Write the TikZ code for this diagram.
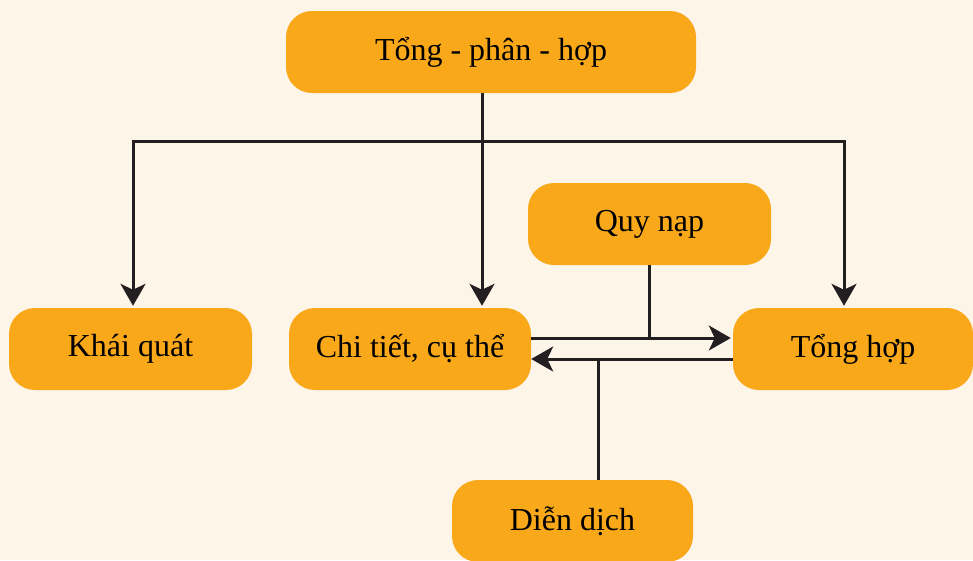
\documentclass[tikz,border=0pt]{standalone}
\usepackage{fontspec}
\setmainfont{Liberation Serif}
\usetikzlibrary{arrows.meta}
\definecolor{bgc}{HTML}{FEF5E9}
\definecolor{boxc}{HTML}{F9A81A}
\definecolor{linec}{HTML}{231F20}
\tikzset{
  box/.style={fill=boxc, draw=none, rounded corners=26pt, minimum width=242pt, minimum height=82pt, inner sep=0pt, font=\fontsize{32}{38}\selectfont, text=black},
  conn/.style={draw=linec, line width=3pt},
  arr/.style={conn, -{Stealth[length=22pt,width=25pt,inset=6pt]}, shorten >=2pt}
}
\begin{document}
\begin{tikzpicture}[x=1pt,y=-1pt]
\fill[bgc] (0,0) rectangle (973,560);
\useasboundingbox (0,0) rectangle (973,560);
\node[box, minimum width=410pt] (top) at (491,52) {Tổng - phân - hợp};
\node[box, minimum width=243pt] (quy) at (649.5,224) {Quy nạp};
\node[box, minimum width=243pt] (khai) at (130.5,349) {Khái quát};
\node[box] (chi) at (410,349) {Chi tiết, cụ thể};
\node[box, minimum width=240pt] (tong) at (853,349) {Tổng hợp};
\node[box, minimum width=241pt] (dien) at (572.5,521) {Diễn dịch};
\coordinate (hl) at (133,141);
\coordinate (hm) at (482,141);
\coordinate (hr) at (844,141);
\coordinate (ya) at (0,338);
\coordinate (yb) at (0,359);
\coordinate (xd) at (598,0);
\draw[conn] (top.south -| hm) -- (hm);
\draw[conn, line cap=rect] (hl) -- (hr);
\draw[arr] (hl) -- (hl |- khai.north);
\draw[arr] (hm) -- (hm |- chi.north);
\draw[arr] (hr) -- (hr |- tong.north);
\draw[arr] (chi.east |- ya) -- (tong.west |- ya);
\draw[arr, shorten >=0pt] (tong.west |- yb) -- (chi.east |- yb);
\draw[conn] (quy.south) -- (quy.south |- ya);
\draw[conn] (dien.north -| xd) -- (xd |- yb);
\end{tikzpicture}
\end{document}
